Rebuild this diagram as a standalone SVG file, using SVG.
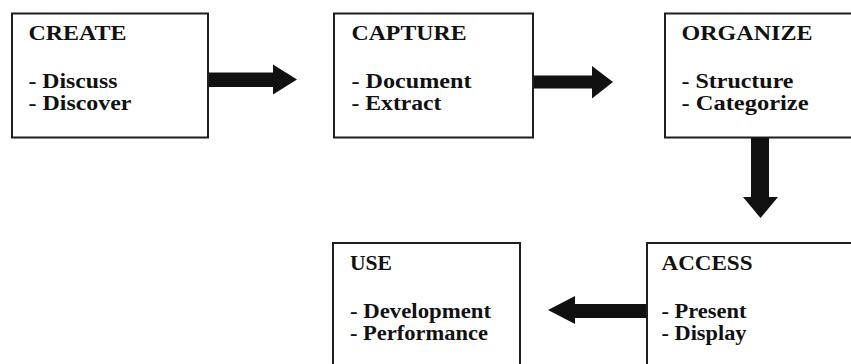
<svg xmlns="http://www.w3.org/2000/svg" width="851" height="364" viewBox="0 0 851 364">
  <style>
    .box { fill: #ffffff; stroke: #1e1e1e; stroke-width: 2; }
    .t { font-family: "Liberation Serif", "Times New Roman", serif; font-weight: bold; font-size: 20px; fill: #111111; }
    .arrow { fill: #111111; stroke: none; }
  </style>
  <rect width="851" height="364" fill="#ffffff"/>

  <g id="node-create">
    <rect class="box" x="12" y="13.5" width="196" height="124"/>
    <text class="t" x="28.5" y="40" textLength="98" lengthAdjust="spacingAndGlyphs">CREATE</text>
    <text class="t" x="28.5" y="87.5" textLength="89" lengthAdjust="spacingAndGlyphs">- Discuss</text>
    <text class="t" x="28.5" y="109.5" textLength="103" lengthAdjust="spacingAndGlyphs">- Discover</text>
  </g>

  <g id="node-capture">
    <rect class="box" x="334" y="13.5" width="199" height="124"/>
    <text class="t" x="351.5" y="40" textLength="115" lengthAdjust="spacingAndGlyphs">CAPTURE</text>
    <text class="t" x="351.5" y="87.5" textLength="120" lengthAdjust="spacingAndGlyphs">- Document</text>
    <text class="t" x="351.5" y="109.5" textLength="90" lengthAdjust="spacingAndGlyphs">- Extract</text>
  </g>

  <g id="node-organize">
    <rect class="box" x="665" y="13.5" width="200" height="124"/>
    <text class="t" x="681.5" y="40" textLength="131" lengthAdjust="spacingAndGlyphs">ORGANIZE</text>
    <text class="t" x="681.5" y="87.5" textLength="112" lengthAdjust="spacingAndGlyphs">- Structure</text>
    <text class="t" x="681.5" y="109.5" textLength="127" lengthAdjust="spacingAndGlyphs">- Categorize</text>
  </g>

  <g id="node-use">
    <rect class="box" x="333" y="243" width="187" height="140"/>
    <text class="t" x="350" y="270" textLength="42" lengthAdjust="spacingAndGlyphs">USE</text>
    <text class="t" x="350" y="317.5" textLength="141" lengthAdjust="spacingAndGlyphs">- Development</text>
    <text class="t" x="350" y="339.5" textLength="138" lengthAdjust="spacingAndGlyphs">- Performance</text>
  </g>

  <g id="node-access">
    <rect class="box" x="647" y="243" width="220" height="140"/>
    <text class="t" x="661.5" y="270" textLength="91" lengthAdjust="spacingAndGlyphs">ACCESS</text>
    <text class="t" x="661.5" y="317.5" textLength="85" lengthAdjust="spacingAndGlyphs">- Present</text>
    <text class="t" x="661.5" y="339.5" textLength="85" lengthAdjust="spacingAndGlyphs">- Display</text>
  </g>

  <g id="connectors">
    <!-- CREATE to CAPTURE -->
    <polygon class="arrow" points="209,72.5 273,72.5 273,64.5 297,79.5 273,94.5 273,87 209,87"/>
    <!-- CAPTURE to ORGANIZE -->
    <polygon class="arrow" points="534,75.5 592,75.5 592,66 613,82 592,98.5 592,88.5 534,88.5"/>
    <!-- ORGANIZE to ACCESS -->
    <polygon class="arrow" points="751,138 769,138 769,197 778,197 760.5,218 743,197 751,197"/>
    <!-- ACCESS to USE -->
    <polygon class="arrow" points="646,304 575,304 575,296 548,310 575,324 575,318 646,318"/>
  </g>
</svg>
